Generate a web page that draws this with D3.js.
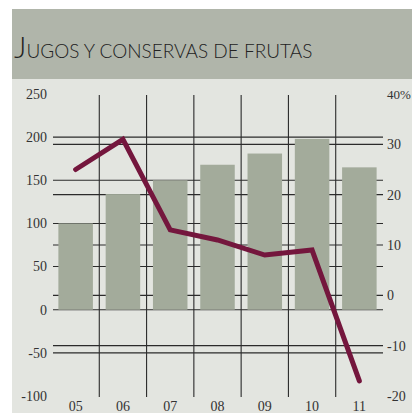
<!DOCTYPE html>
<html lang="es">
<head>
<meta charset="utf-8">
<title>Jugos y conservas de frutas</title>
<script src="https://d3js.org/d3.v7.min.js"></script>
<style>
  body { margin: 0; background: #fff; }
  svg { display: block; }
  .tick-label { font-family: "Liberation Serif", "DejaVu Serif", serif; font-size: 14px; fill: #333; }
</style>
</head>
<body>
<div id="chart"></div>
<script>
// data
var years = ["05", "06", "07", "08", "09", "10", "11"];
var exports = [100, 134, 150, 168, 181, 198, 165];     // left axis (bars)
var growth = [25, 31, 13, 11, 8, 9, -17];              // right axis, % (line)
var leftTicks = [250, 200, 150, 100, 50, 0, -50, -100];
var rightTicks = [40, 30, 20, 10, 0, -10, -20];
var leftGrid = [200, 150, 100, 50, 0, -50];
var rightGrid = [30, 20, 10, 0, -10];

var W = 412, H = 413;
var svg = d3.select("#chart").append("svg")
    .attr("width", W)
    .attr("height", H);

// backgrounds
svg.append("rect").attr("x", 12).attr("y", 79).attr("width", W - 12).attr("height", H - 79).attr("fill", "#e3e5e0");
svg.append("rect").attr("x", 12).attr("y", 9).attr("width", W - 12).attr("height", 70).attr("fill", "#b0b5aa");

// title
var title = svg.append("text")
    .attr("x", 14).attr("y", 58)
    .attr("font-family", "Lato, 'Open Sans', sans-serif")
    .attr("font-weight", 300)
    .attr("fill", "#222");
title.append("tspan").attr("font-size", 30).text("J");
title.append("tspan").attr("font-size", 19).text("UGOS Y CONSERVAS DE FRUTAS");

// scales
var xGrid = d3.scaleBand().domain(years).range([52, 383]).padding(0);
var x = d3.scaleBand().domain(years).range([52, 383]).paddingInner(0.27).paddingOuter(0.135);
var yL = d3.scaleLinear().domain([-100, 250]).range([396, 94]);
var yR = d3.scaleLinear().domain([-20, 40]).range([396, 94]);

// horizontal grid lines
var grid = svg.append("g").attr("stroke", "#2b2b2b").attr("stroke-width", 1.1);
grid.selectAll("line.l").data(leftGrid).enter().append("line")
    .attr("x1", 53).attr("x2", 383)
    .attr("y1", function(d) { return yL(d); })
    .attr("y2", function(d) { return yL(d); });
grid.selectAll("line.r").data(rightGrid).enter().append("line")
    .attr("x1", 53).attr("x2", 383)
    .attr("y1", function(d) { return yR(d); })
    .attr("y2", function(d) { return yR(d); });

// bars
svg.append("g").selectAll("rect").data(exports).enter().append("rect")
    .attr("x", function(d, i) { return x(years[i]); })
    .attr("width", x.bandwidth())
    .attr("y", function(d) { return yL(d); })
    .attr("height", function(d) { return yL(0) - yL(d); })
    .attr("fill", "#a3ab9b");

// vertical lines between categories
svg.append("g").selectAll("line").data(years.slice(1)).enter().append("line")
    .attr("x1", function(d) { return xGrid(d); })
    .attr("x2", function(d) { return xGrid(d); })
    .attr("y1", 95).attr("y2", 397)
    .attr("stroke", "#2b2b2b").attr("stroke-width", 1.1);

// growth line
var line = d3.line()
    .x(function(d, i) { return x(years[i]) + x.bandwidth() / 2; })
    .y(function(d) { return yR(d); });
svg.append("path").datum(growth)
    .attr("d", line)
    .attr("fill", "none")
    .attr("stroke", "#74163d")
    .attr("stroke-width", 5)
    .attr("stroke-linecap", "round")
    .attr("stroke-linejoin", "miter");

// left tick labels
svg.append("g").selectAll("text").data(leftTicks).enter().append("text")
    .attr("class", "tick-label")
    .attr("x", 47)
    .attr("y", function(d) { return yL(d); })
    .attr("dy", "0.35em")
    .attr("text-anchor", "end")
    .text(function(d) { return d; });

// right tick labels
svg.append("g").selectAll("text").data(rightTicks).enter().append("text")
    .attr("class", "tick-label")
    .attr("x", 387)
    .attr("y", function(d) { return yR(d); })
    .attr("dy", "0.35em")
    .style("font-size", function(d) { return d === 40 ? "13px" : null; })
    .text(function(d) { return d === 40 ? "40%" : d; });

// x labels
svg.append("g").selectAll("text").data(years).enter().append("text")
    .attr("class", "tick-label")
    .attr("x", function(d) { return x(d) + x.bandwidth() / 2; })
    .attr("y", 411)
    .attr("text-anchor", "middle")
    .text(function(d) { return d; });
</script>
</body>
</html>
